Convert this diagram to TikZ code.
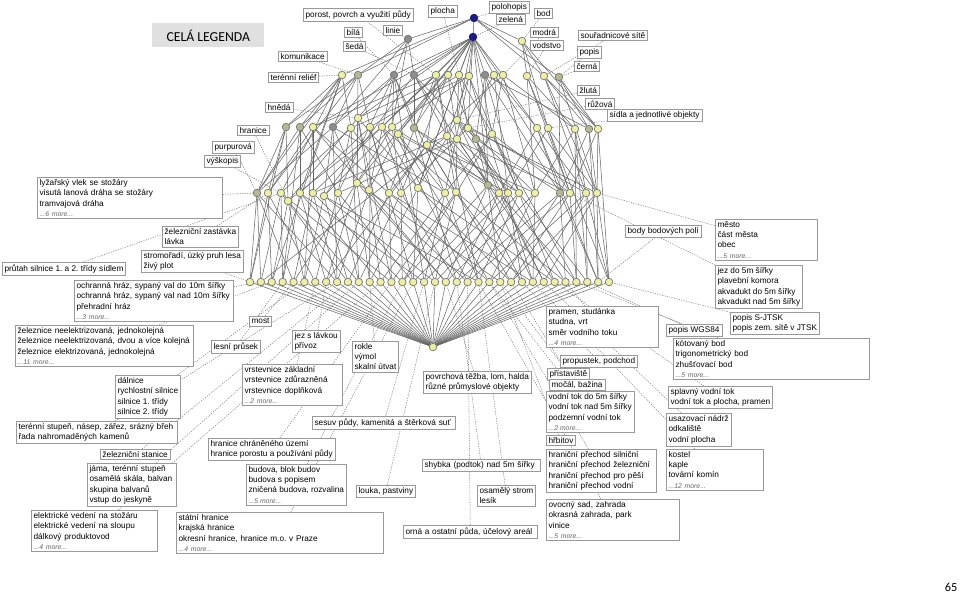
\documentclass[tikz,border=0pt]{standalone}
\usepackage{fontspec}
\setmainfont{Liberation Sans}
\newfontfamily\carl{Carlito}
\usetikzlibrary{backgrounds}
\definecolor{yl}{HTML}{EFEFA0}
\definecolor{ol}{HTML}{B6B88E}
\definecolor{dg}{HTML}{8C8C8C}
\definecolor{nv}{HTML}{1C1C8E}
\tikzset{
  yel/.style={circle,draw=black!55,fill=yl,line width=.4pt,inner sep=0pt,minimum size=4.3pt},
  olv/.style={yel,fill=ol},
  dgr/.style={yel,fill=dg},
  blu/.style={yel,fill=nv,draw=nv!70!black},
  lbox/.style={draw=black!40,fill=white,line width=.35pt,anchor=north west,align=left,
               inner xsep=1.3pt,inner ysep=1.2pt,font=\fontsize{4.7}{5.85}\selectfont},
  bw/.code={\pgfmathsetlengthmacro\bwlen{#1*0.02cm-2.6pt}\tikzset{text width=\bwlen}},
  edg/.style={black!60,line width=.3pt},
  lk/.style={black!50,line width=.3pt,dash pattern=on .7pt off .7pt},
  ttl/.style={fill=black!12,font=\carl\fontsize{7.8}{9}\selectfont,anchor=north west,
              minimum width=2.24cm,minimum height=.48cm,inner sep=0pt},
}
\newcommand\moretxt[1]{{\fontsize{3.9}{5.85}\selectfont\itshape\color{black!60}...#1 more...}}

\begin{document}
\frenchspacing
\begin{tikzpicture}[x=.02cm,y=-.02cm]
  \useasboundingbox (0,0) rectangle (960,594);
  \node[ttl] (title) at (152,23) {CELÁ LEGENDA};
  \node[font=\carl\fontsize{7}{8}\selectfont] (page) at (951,587) {65};

  % lattice nodes
  \node[blu] (top1) at (474,18) {};
  \node[blu] (top2) at (473,37) {};
  \node[dgr] (lin) at (408,39) {};
  \node[yel] (bd) at (522,41) {};
  \foreach \n/\x/\y/\s in {1/342/75/yel,2/358/75/olv,3/394/75/dgr,4/414/75/dgr,5/436/75/yel,
      6/448/75/yel,7/459/75/yel,8/469/76/yel,9/485/75/dgr,10/494/75/yel,11/503/75/yel,
      12/527/76/yel,13/544/76/yel,14/559/77/olv}
    \node[\s] (a\n) at (\x,\y) {};
  \foreach \n/\x/\y/\s in {1/286/127/olv,2/300/127/olv,3/313/127/yel,4/333/127/dgr,5/351/128/yel,
      6/358/118/yel,7/370/127/yel,8/382/127/yel,9/392/127/yel,10/398/134/yel,11/414/128/olv,
      12/427/145/yel,13/447/136/yel,14/457/120/yel,15/457/139/yel,16/468/128/yel,17/476/139/olv,
      18/492/134/yel,19/537/128/yel,20/548/128/yel,21/575/129/yel,22/589/129/olv,23/598/129/yel}
    \node[\s] (b\n) at (\x,\y) {};
  \foreach \n/\x/\y/\s in {1/257/193/olv,2/268/193/yel,3/281/193/yel,4/288/201/yel,5/300/193/yel,
      6/313/193/yel,7/324/196/yel,8/338/193/yel,9/357/183/yel,10/369/190/yel,11/389/193/yel,
      12/401/193/yel,13/418/188/yel,14/445/193/yel,15/456/192/yel,16/488/185/olv,17/499/193/yel,
      18/508/193/yel,19/519/193/yel,20/535/193/yel,21/560/193/olv,22/570/193/yel,23/586/193/yel,
      24/597/193/yel}
    \node[\s] (c\n) at (\x,\y) {};
  \foreach \i in {1,...,34}
    \node[yel] (d\i) at ({250+(\i-1)*10.88},282) {};
  \node[yel] (bot) at (433,347) {};

  % attribute labels
  \node[lbox] (lpor) at (303,8) {porost, povrch a využití půdy};
  \node[lbox] (lplo) at (428,5) {plocha};
  \node[lbox] (lpol) at (489,1) {polohopis};
  \node[lbox] (lzel) at (496,14) {zelená};
  \node[lbox] (lbod) at (534,8) {bod};
  \node[lbox] (lmod) at (530,27) {modrá};
  \node[lbox] (lvod) at (530,40) {vodstvo};
  \node[lbox] (lsou) at (578,30) {souřadnicové sítě};
  \node[lbox] (lpop) at (577,46) {popis};
  \node[lbox] (lcer) at (574,61) {černá};
  \node[lbox] (lzlu) at (577,85) {žlutá};
  \node[lbox] (lruz) at (585,98) {růžová};
  \node[lbox] (lsid) at (607,109) {sídla a jednotlivé objekty};
  \node[lbox] (lbil) at (344,27) {bílá};
  \node[lbox] (llin) at (383,25) {linie};
  \node[lbox] (lsed) at (343,41) {šedá};
  \node[lbox] (lkom) at (278,51) {komunikace};
  \node[lbox] (lter) at (268,72) {terénní reliéf};
  \node[lbox] (lhne) at (265,102) {hnědá};
  \node[lbox] (lhra) at (237,125) {hranice};
  \node[lbox] (lpur) at (212,141) {purpurová};
  \node[lbox] (lvys) at (204,155) {výškopis};

  % object labels, left
  \node[lbox,bw=185] (lvle) at (37,177) {lyžařský vlek se stožáry\\visutá lanová dráha se stožáry\\tramvajová dráha\\\moretxt{6}};
  \node[lbox] (lzas) at (162,226) {železniční zastávka\\lávka};
  \node[lbox] (lstr) at (141,250) {stromořadí, úzký pruh lesa\\živý plot};
  \node[lbox] (lpru) at (2,262) {průtah silnice 1. a 2. třídy sídlem};
  \node[lbox,bw=159] (loch) at (74,280) {ochranná hráz, sypaný val do 10m šířky\\ochranná hráz, sypaný val nad 10m šířky\\přehradní hráz\\\moretxt{3}};
  \node[lbox,bw=178] (lzel2) at (15,325) {železnice neelektrizovaná, jednokolejná\\železnice neelektrizovaná, dvou a více kolejná\\železnice elektrizovaná, jednokolejná\\\moretxt{11}};
  \node[lbox] (lmos) at (249,316) {most};
  \node[lbox] (lles) at (211,340) {lesní průsek};
  \node[lbox] (ljez) at (292,330) {jez s lávkou\\přívoz};
  \node[lbox] (lrok) at (352,341) {rokle\\výmol\\skalní útvat};
  \node[lbox,bw=100] (lvrs) at (242,364) {vrstevnice základní\\vrstevnice zdůrazněná\\vrstevnice doplňková\\\moretxt{2}};
  \node[lbox] (ldal) at (115,375) {dálnice\\rychlostní silnice\\silnice 1. třídy\\silnice 2. třídy};
  \node[lbox,bw=161] (ltst) at (16,421) {terénní stupeň, násep, zářez, srázný břeh\\řada nahromaděných kamenů};
  \node[lbox] (lzst) at (100,449) {železniční stanice};
  \node[lbox,bw=89] (ljam) at (87,463) {jáma, terénní stupeň\\osamělá skála, balvan\\skupina balvanů\\vstup do jeskyně};
  \node[lbox,bw=126] (lele) at (31,510) {elektrické vedení na stožáru\\elektrické vedení na sloupu\\dálkový produktovod\\\moretxt{4}};
  \node[lbox] (lhch) at (208,438) {hranice chráněného území\\hranice porostu a používání půdy};
  \node[lbox] (lbud) at (246,464) {budova, blok budov\\budova s popisem\\zničená budova, rozvalina\\\moretxt{5}};
  \node[lbox,bw=207] (lsta) at (176,512) {státní hranice\\krajská hranice\\okresní hranice, hranice m.o. v Praze\\\moretxt{4}};
  \node[lbox,bw=143] (lses) at (312,416) {sesuv půdy, kamenitá a štěrková suť};
  \node[lbox] (llou) at (356,485) {louka, pastviny};
  \node[lbox] (lpov) at (423,371) {povrchová těžba, lom, halda\\různé průmyslové objekty};
  \node[lbox,bw=118] (lshy) at (422,459) {shybka (podtok) nad 5m šířky};
  \node[lbox,bw=134] (lorn) at (403,525) {orná a ostatní půda, účelový areál};
  \node[lbox] (losa) at (477,485) {osamělý strom\\lesík};

  % object labels, right
  \node[lbox] (lbbp) at (625,225) {body bodových polí};
  \node[lbox,bw=102] (lmes) at (715,219) {město\\část města\\obec\\\moretxt{5}};
  \node[lbox] (ljez5) at (715,265) {jez do 5m šířky\\plavební komora\\akvadukt do 5m šířky\\akvadukt nad 5m šířky};
  \node[lbox] (lsjt) at (730,312) {popis S-JTSK\\popis zem. sítě v JTSK};
  \node[lbox] (lwgs) at (666,324) {popis WGS84};
  \node[lbox,bw=196] (lkot) at (673,338) {kótovaný bod\\trigonometrický bod\\zhušťovací bod\\\moretxt{5}};
  \node[lbox,bw=112] (lpra) at (546,306) {pramen, studánka\\studna, vrt\\směr vodního toku\\\moretxt{4}};
  \node[lbox] (lspl) at (668,386) {splavný vodní tok\\vodní tok a plocha, pramen};
  \node[lbox] (lusa) at (666,413) {usazovací nádrž\\odkaliště\\vodní plocha};
  \node[lbox,bw=97] (lkos) at (666,449) {kostel\\kaple\\tovární komín\\\moretxt{12}};
  \node[lbox] (lpro) at (560,355) {propustek, podchod};
  \node[lbox] (lpri) at (547,368) {přístaviště};
  \node[lbox] (lmoc) at (549,379) {močál, bažina};
  \node[lbox] (lvtk) at (546,391) {vodní tok do 5m šířky\\vodní tok nad 5m šířky\\podzemní vodní tok\\\moretxt{2}};
  \node[lbox] (lhrb) at (546,435) {hřbitov};
  \node[lbox,bw=110] (lhrp) at (546,449) {hraniční přechod silniční\\hraniční přechod železniční\\hraniční přechod pro pěší\\hraniční přechod vodní};
  \node[lbox,bw=133] (lovo) at (546,499) {ovocný sad, zahrada\\okrasná zahrada, park\\vinice\\\moretxt{5}};

  \begin{scope}[on background layer]
    % lattice edges
    \foreach \u/\v in {top1/top2,top1/lin,top1/bd,top1/a1,top1/a2,top1/a13,top1/a14,
        top2/a3,top2/a4,top2/a5,top2/a6,top2/a7,top2/a8,top2/a9,top2/a10,top2/a11,
        top2/b6,top2/b8,top2/b11,top2/b14,top2/b16,top2/b19,top2/b3,top2/b10,top2/b18,
        top2/c9,top2/c13,top2/c16,
        lin/a2,lin/a3,lin/a4,lin/b4,lin/b9,bd/a12,bd/a13,bd/b20,bd/b23,
        a1/b1,a1/b2,a1/b5,a1/c3,a2/b1,a2/b2,a2/b4,a2/b7,a2/c9,a3/b4,a3/b9,a3/b11,a3/c10,a3/c14,
        a4/b11,a4/b13,a4/b17,a4/c16,a5/b3,a5/b8,a5/b12,a5/c6,a6/b6,a6/b10,a6/b15,a6/c12,
        a7/b7,a7/b14,a7/b16,a7/b18,a8/b5,a8/b9,a8/b13,a8/c19,a9/b17,a9/b22,a9/c16,a9/c21,
        a10/b15,a10/b19,a10/c18,a11/b12,a11/b18,a11/b21,a12/b20,a12/b21,a12/c20,
        a13/b22,a13/b23,a13/c23,a14/b22,a14/b23,a14/c24,
        a1/c1,a1/c5,a2/c2,a3/c4,a3/c8,a4/c7,a5/c11,a5/c15,a6/c17,a7/c13,a8/c14,a9/c19,
        a10/c22,a11/c20,a12/c22,a13/c24,a14/c21,a1/d3,a3/d17,a5/d22,a8/d27}
      \draw[edg] (\u) -- (\v);
    \foreach \u/\v in {b1/c1,b1/c2,b1/c4,b2/c1,b2/c5,b2/c8,b3/c2,b3/c6,b3/c11,b4/c1,b4/c7,b4/c9,b4/c14,
        b5/c3,b5/c8,b5/c12,b6/c9,b6/c10,b6/c13,b7/c5,b7/c11,b7/d12,b8/c4,b8/c13,b8/c15,
        b9/c7,b9/c12,b9/c17,b10/c10,b10/c14,b10/c18,b11/c16,b11/c19,b11/d20,b12/c11,b12/c15,b12/c20,
        b13/c6,b13/c17,b13/c22,b14/c13,b14/c18,b14/c23,b15/c8,b15/c15,b15/c19,b16/c12,b16/c20,b16/c24,
        b17/c16,b17/c21,b17/d28,b18/c14,b18/c19,b18/c22,b19/c17,b19/c21,b19/c23,b20/c18,b20/c22,b20/c24,
        b21/c20,b21/c23,b21/d32,b22/c21,b22/c24,b22/d33,b23/c22,b23/c24,b23/d34,
        b1/d1,b2/d4,b3/d6,b4/d9,b5/d11,b6/d14,b7/d16,b8/d18,b9/d21,b10/d23,b12/d25,b13/d26,
        b14/d27,b15/d29,b16/d30,b18/d31,b19/d33,b20/d34,b21/d31,b3/d19,b9/d5,b12/d8,b13/d2,b18/d15}
      \draw[edg] (\u) -- (\v);
    \foreach \u/\v in {c1/d1,c1/d2,c1/d5,c1/d9,c2/d1,c2/d3,c2/d7,c3/d2,c3/d4,c3/d10,c3/d14,
        c4/d3,c4/d6,c4/d11,c5/d4,c5/d8,c5/d13,c5/d17,c6/d5,c6/d9,c6/d15,c7/d6,c7/d10,c7/d18,c7/d22,
        c8/d7,c8/d11,c8/d16,c9/d8,c9/d12,c9/d19,c9/d24,c10/d9,c10/d13,c10/d21,
        c11/d10,c11/d14,c11/d23,c11/d27,c12/d11,c12/d15,c12/d20,c13/d12,c13/d16,c13/d25,c13/d29,
        c14/d13,c14/d17,c14/d22,c15/d14,c15/d18,c15/d26,c15/d30,c16/d15,c16/d19,c16/d24,
        c17/d16,c17/d20,c17/d28,c17/d31,c18/d17,c18/d21,c18/d26,c19/d18,c19/d22,c19/d29,c19/d32,
        c20/d19,c20/d23,c20/d27,c21/d20,c21/d24,c21/d30,c21/d33,c22/d21,c22/d25,c22/d31,
        c23/d23,c23/d27,c23/d32,c23/d34,c24/d25,c24/d28,c24/d33,c24/d34}
      \draw[edg] (\u) -- (\v);
    \foreach \i in {1,...,34}
      \draw[edg] (d\i) -- (bot);
    % label links
    \foreach \l/\n in {lpor/a5,lplo/a7,lpol/top1,lzel/top2,lbod/bd,lmod/a11,lvod/a12,lsou/a13,
        lpop/a14,lcer/a14,lzlu/b14,lruz/b16,lsid/b20,lbil/a3,llin/lin,lsed/a4,lkom/a2,lter/a1,
        lhne/b6,lhra/c4,lpur/c1,lvys/c3,
        lvle/c1,lzas/c2,lpru/c3,lstr/d1,loch/d2,lzel2/d3,lmos/d5,lles/d4,ljez/d8,lrok/d12,
        lvrs/d7,ldal/d6,ltst/d9,lzst/d10,ljam/d11,lele/d13,lhch/d14,lbud/d15,lsta/d16,lses/d17,
        llou/d18,lpov/d19,lshy/d20,lorn/d21,losa/d22,
        lbbp/d33,lmes/c24,ljez5/c22,lsjt/d34,lwgs/d32,lkot/d31,lpra/d30,lspl/d29,lusa/d28,
        lkos/d27,lpro/d26,lpri/d25,lmoc/d24,lvtk/d23,lhrb/d24,lhrp/d23,lovo/d22}
      \draw[lk] (\l) -- (\n);
  \end{scope}
\end{tikzpicture}
\end{document}
